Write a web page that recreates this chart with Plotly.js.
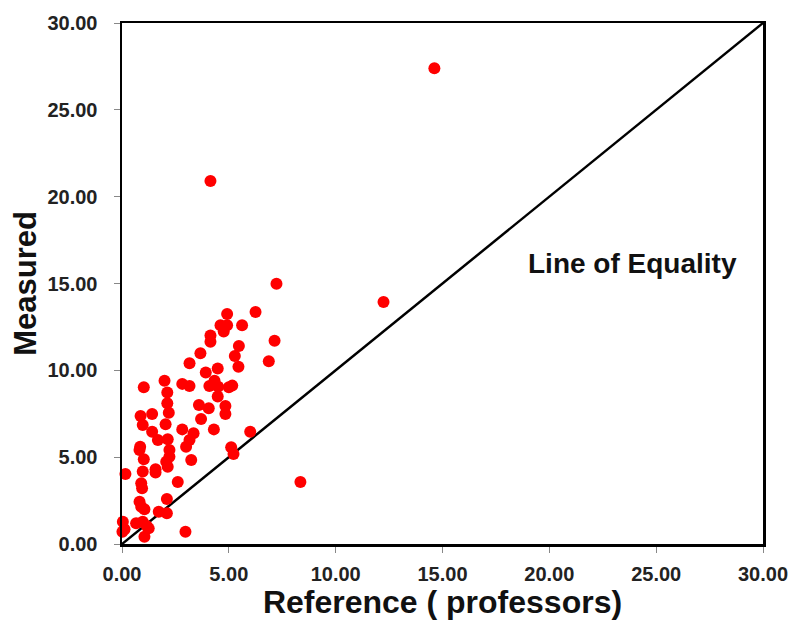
<!DOCTYPE html>
<html>
<head>
<meta charset="utf-8">
<script src="https://cdn.plot.ly/plotly-3.0.1.min.js"></script>
<style>html,body{margin:0;padding:0;background:#fff;}#chart{width:792px;height:625px;}</style>
</head>
<body>
<div id="chart"></div>
<script>
const refX = [14.62,4.14,12.24,8.35,7.23,6.25,4.92,5.62,4.61,4.92,4.76,4.14,4.14,5.47,7.14,3.67,5.28,6.87,3.16,5.45,4.48,3.92,1.99,1.02,2.82,3.16,4.33,4.09,4.50,5.00,5.16,2.12,4.48,2.12,3.60,4.06,4.84,2.19,0.87,1.41,4.84,3.70,0.97,2.04,1.41,2.82,3.35,3.16,3.00,4.30,6.00,1.68,2.14,0.85,0.82,2.22,2.22,5.11,5.22,1.02,3.24,2.07,2.14,0.16,0.97,1.57,1.57,2.61,0.90,0.94,2.10,0.82,0.90,1.05,1.72,2.10,0.04,0.12,0.66,0.97,1.16,1.25,1.05,2.97,0.02];
const measuredY = [27.40,20.90,13.94,3.57,14.98,13.36,13.25,12.60,12.60,12.60,12.23,12.00,11.65,11.40,11.71,10.98,10.83,10.52,10.41,10.20,10.10,9.87,9.40,9.03,9.22,9.10,9.40,9.10,9.06,9.03,9.12,8.72,8.49,8.10,8.00,7.82,7.95,7.56,7.37,7.49,7.49,7.20,6.85,6.90,6.47,6.60,6.38,5.99,5.60,6.60,6.47,5.99,6.03,5.60,5.41,5.41,5.03,5.57,5.18,4.88,4.84,4.74,4.45,4.03,4.17,4.30,4.11,3.57,3.50,3.21,2.59,2.44,2.15,2.00,1.86,1.77,1.28,0.85,1.19,1.28,1.04,0.90,0.42,0.71,0.71];
const equalityX = [0, 30];
const equalityY = [0, 30];
const tickVals = [0, 5, 10, 15, 20, 25, 30];
const tickText = ["0.00","5.00","10.00","15.00","20.00","25.00","30.00"];

const F = "Liberation Sans, Arial, Helvetica, sans-serif";
const data = [
  {x: equalityX, y: equalityY, mode: 'lines', type: 'scatter',
   line: {color: '#000', width: 2.5}, hoverinfo: 'skip', cliponaxis: false},
  {x: refX, y: measuredY, mode: 'markers', type: 'scatter',
   marker: {color: '#ff0000', size: 12}, cliponaxis: false}
];
const axisCommon = {
  range: [0, 30], tickvals: tickVals, ticktext: tickText,
  showline: true, linecolor: '#000', linewidth: 2.5, mirror: true,
  ticks: 'outside', ticklen: 6, tickcolor: '#888', tickwidth: 1,
  showgrid: false, zeroline: false,
  tickfont: {family: F, size: 20, color: '#222', weight: 'bold'}
};
const layout = {
  width: 792, height: 625,
  margin: {l: 122, r: 29, t: 23, b: 81},
  paper_bgcolor: '#fff', plot_bgcolor: '#fff',
  showlegend: false,
  xaxis: Object.assign({}, axisCommon, {
    ticklabelstandoff: 4,
    title: {text: '<b>Reference ( professors)</b>', font: {family: F, size: 32, color: '#111'}, standoff: 7}
  }),
  yaxis: Object.assign({}, axisCommon, {
    ticklabelstandoff: 12,
    title: {text: '<b>Measured</b>', font: {family: F, size: 31, color: '#111'}, standoff: 2}
  }),
  annotations: [{
    x: 23.89, y: 16.13, xref: 'x', yref: 'y', showarrow: false,
    text: '<b>Line of Equality</b>', font: {family: F, size: 28, color: '#111'}
  }]
};
Plotly.newPlot('chart', data, layout, {displayModeBar: false, staticPlot: true});
</script>
</body>
</html>
